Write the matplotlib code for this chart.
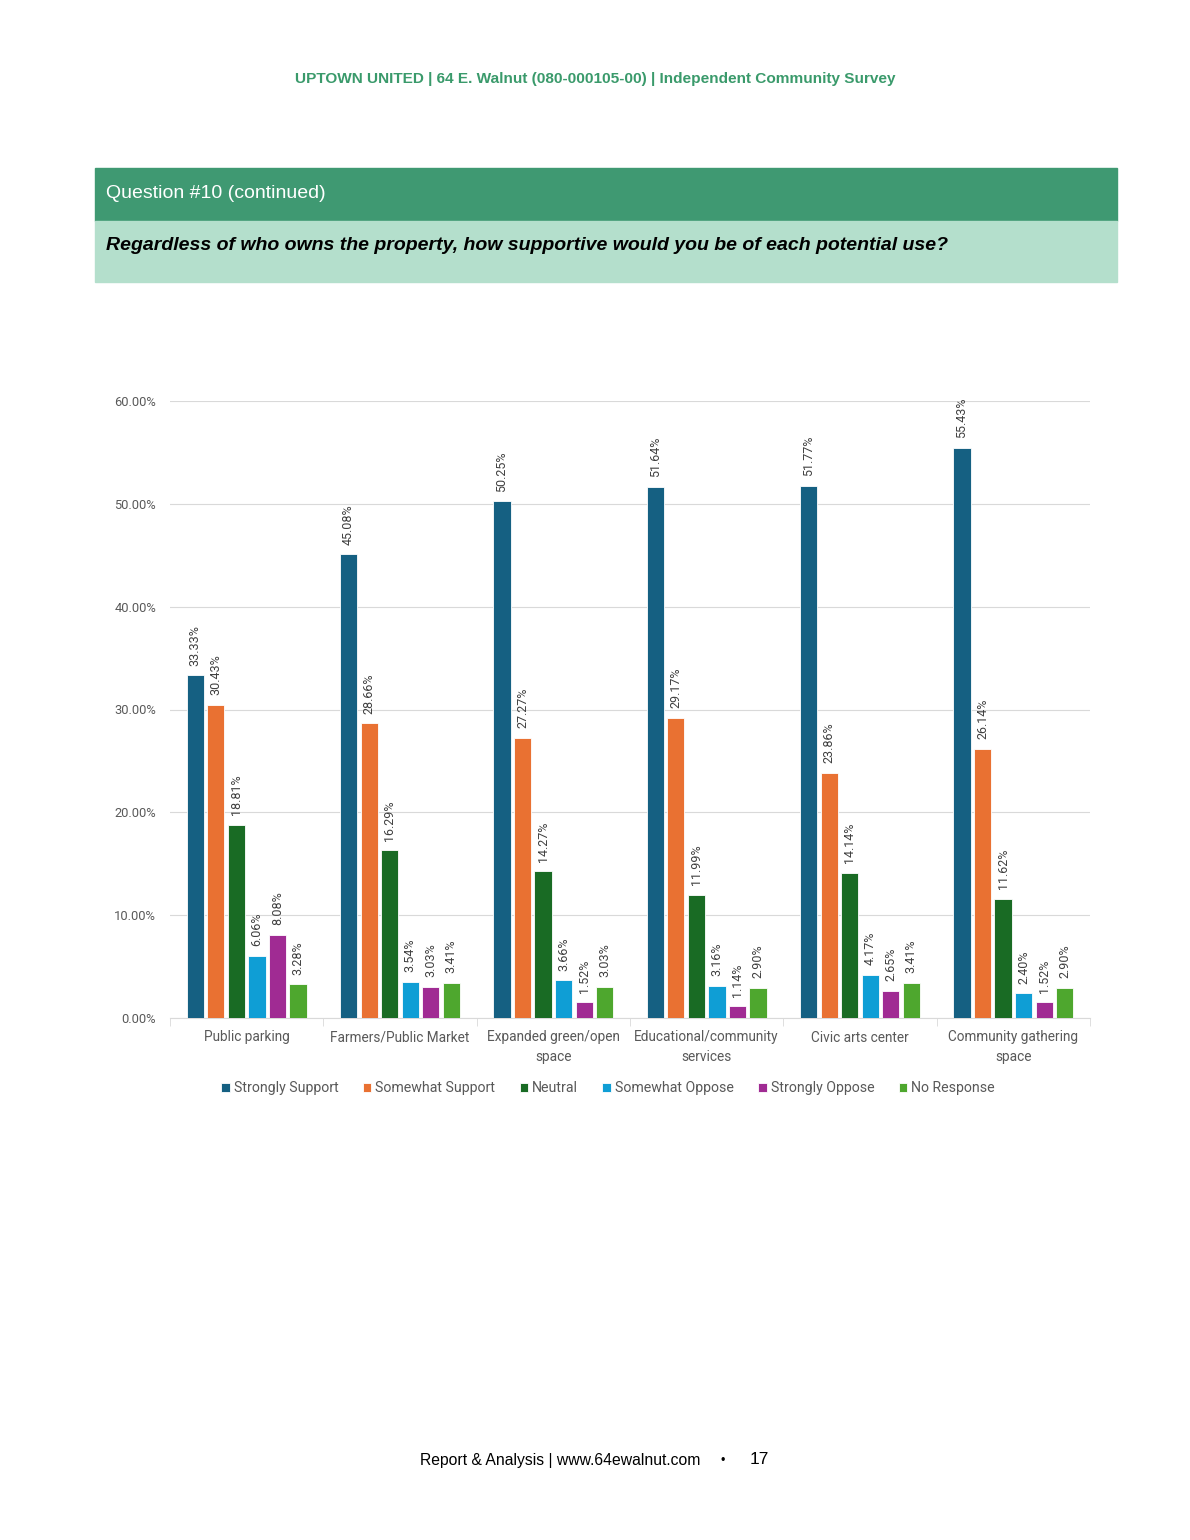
import matplotlib.pyplot as plt
import numpy as np
from matplotlib.patches import Rectangle

categories = ["Public parking", "Farmers/Public Market", "Expanded green/open\nspace",
              "Educational/community\nservices", "Civic arts center", "Community gathering\nspace"]
series = ["Strongly Support", "Somewhat Support", "Neutral",
          "Somewhat Oppose", "Strongly Oppose", "No Response"]
strongly_support = [33.33, 45.08, 50.25, 51.64, 51.77, 55.43]
somewhat_support = [30.43, 28.66, 27.27, 29.17, 23.86, 26.14]
neutral = [18.81, 16.29, 14.27, 11.99, 14.14, 11.62]
somewhat_oppose = [6.06, 3.54, 3.66, 3.16, 4.17, 2.40]
strongly_oppose = [8.08, 3.03, 1.52, 1.14, 2.65, 1.52]
no_response = [3.28, 3.41, 3.03, 2.90, 3.41, 2.90]
values = [strongly_support, somewhat_support, neutral, somewhat_oppose, strongly_oppose, no_response]
colors = ["#156082", "#E97132", "#196B24", "#0F9ED5", "#A02B93", "#4EA72E"]

W, H = 1190, 1540
fig = plt.figure(figsize=(W / 100, H / 100), dpi=100)


def fx(px):
    return px / W


def fy(py):
    return 1 - py / H


# page header
fig.text(fx(595), fy(79), "UPTOWN UNITED | 64 E. Walnut (080-000105-00) | Independent Community Survey",
         ha="center", va="center", color="#3A9A6B", fontsize=11.1, fontweight="bold",
         family="Liberation Sans")
fig.patches.append(Rectangle((fx(95), fy(221)), fx(1117) - fx(95), fy(168) - fy(221),
                             transform=fig.transFigure, color="#3F9972", zorder=0))
fig.patches.append(Rectangle((fx(95), fy(282)), fx(1117) - fx(95), fy(221) - fy(282),
                             transform=fig.transFigure, color="#B4DFCC", zorder=0))
fig.text(fx(106), fy(194), "Question #10 (continued)", ha="left", va="center",
         color="white", fontsize=14, family="Liberation Sans")
fig.text(fx(106), fy(246), "Regardless of who owns the property, how supportive would you be of each potential use?",
         ha="left", va="center", color="black", fontsize=14, fontweight="bold", style="italic",
         family="Liberation Sans")

# chart
ax = fig.add_axes([fx(170), fy(1018), fx(1090) - fx(170), fy(401) - fy(1018)])
x = np.arange(len(categories))
step = 0.134
width = 0.112
for i, (name, vals, c) in enumerate(zip(series, values, colors)):
    pos = x + (i - 2.5) * step
    bars = ax.bar(pos, vals, width=width, color=c, edgecolor="white", linewidth=0.6,
                  label=name, zorder=3)
    for b, v in zip(bars, vals):
        ax.annotate(f"{v:.2f}%", (b.get_x() + b.get_width() / 2, v), xytext=(0, 7),
                    textcoords="offset points", rotation=90, ha="center", va="bottom",
                    fontsize=9, color="#404040", family="Roboto")

ax.set_xlim(-0.5, len(categories) - 0.5)
ax.set_ylim(0, 60)
ax.set_yticks(np.arange(0, 61, 10))
ax.set_yticklabels([f"{t:.2f}%" for t in range(0, 61, 10)])
ax.yaxis.grid(True, color="#D9D9D9", linewidth=0.8, zorder=0)
ax.set_xticks(x)
ax.set_xticklabels(categories, linespacing=1.5)
ax.set_xticks(np.arange(-0.5, len(categories)), minor=True)
ax.tick_params(axis="x", which="major", length=0, pad=9, labelsize=9.8, labelcolor="#595959")
ax.tick_params(axis="x", which="minor", length=6, color="#D9D9D9")
ax.tick_params(axis="y", length=0, pad=10, labelsize=9.3, labelcolor="#595959")
for lab in ax.get_xticklabels() + ax.get_yticklabels():
    lab.set_family("Roboto")
for s in ["top", "right", "left"]:
    ax.spines[s].set_visible(False)
ax.spines["bottom"].set_color("#D9D9D9")

leg = fig.legend(loc="center", bbox_to_anchor=(fx(608), fy(1088)), ncol=6, frameon=False,
                 handlelength=0.6, handleheight=0.6, handletextpad=0.3, columnspacing=1.7,
                 prop={"family": "Roboto", "size": 10.2})
for t in leg.get_texts():
    t.set_color("#595959")

# footer
fig.text(fx(560), fy(1461), "Report & Analysis | www.64ewalnut.com", ha="center", va="center",
         fontsize=11.3, family="Liberation Sans")
fig.text(fx(723), fy(1461), "\u2022", ha="center", va="center", fontsize=9, family="Liberation Sans")
fig.text(fx(759), fy(1460), "17", ha="center", va="center", fontsize=12.5, family="Liberation Sans")

fig.savefig("out.png", dpi=100)
